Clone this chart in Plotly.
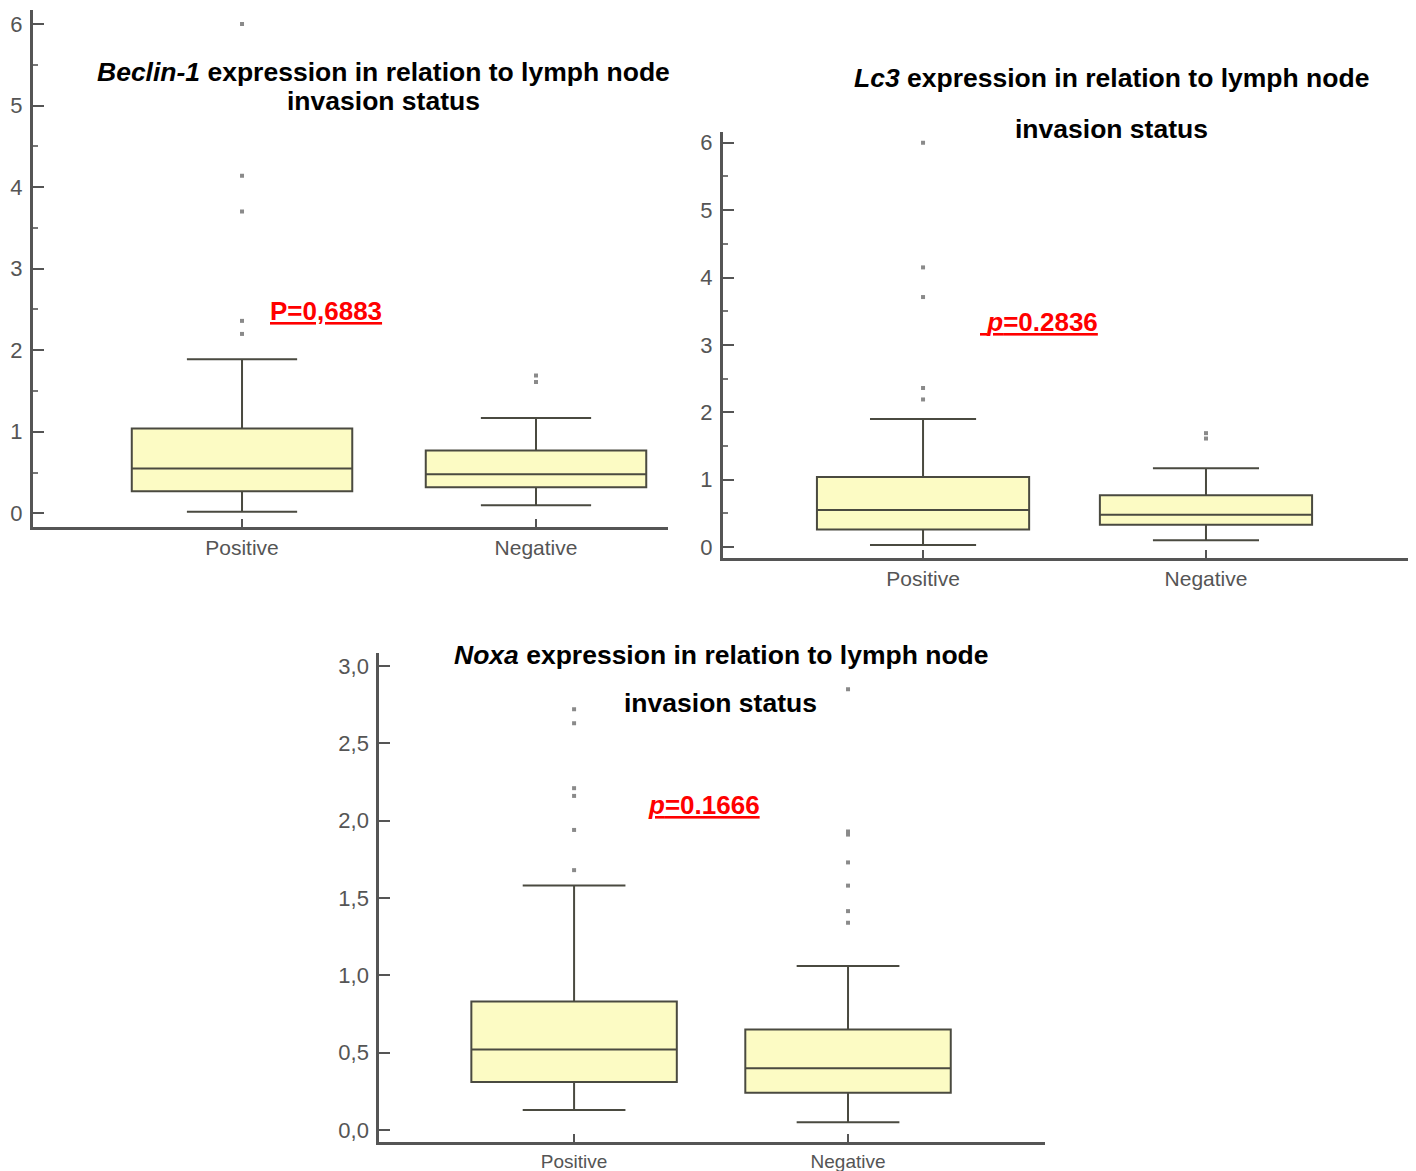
import plotly.graph_objects as go

W, H = 1416, 1171

categories = ["Positive", "Negative"]

# Beclin-1
beclin_q1 = [0.27, 0.32]
beclin_median = [0.55, 0.48]
beclin_q3 = [1.04, 0.77]
beclin_lower = [0.02, 0.10]
beclin_upper = [1.89, 1.17]
beclin_out_pos = [6.0, 4.14, 3.70, 2.36, 2.20]
beclin_out_neg = [1.69, 1.61]

# Lc3
lc3_q1 = [0.26, 0.33]
lc3_median = [0.55, 0.48]
lc3_q3 = [1.04, 0.77]
lc3_lower = [0.03, 0.10]
lc3_upper = [1.90, 1.17]
lc3_out_pos = [6.0, 4.15, 3.71, 2.36, 2.19]
lc3_out_neg = [1.69, 1.61]

# Noxa
noxa_q1 = [0.31, 0.24]
noxa_median = [0.52, 0.40]
noxa_q3 = [0.83, 0.65]
noxa_lower = [0.13, 0.05]
noxa_upper = [1.58, 1.06]
noxa_out_pos = [2.72, 2.63, 2.21, 2.16, 1.94, 1.68]
noxa_out_neg = [2.85, 1.93, 1.91, 1.73, 1.58, 1.415, 1.34]

int_ticks = [0, 1, 2, 3, 4, 5, 6]
int_ticktext = ["0", "1", "2", "3", "4", "5", "6"]
noxa_ticks = [0, 0.5, 1.0, 1.5, 2.0, 2.5, 3.0]
noxa_ticktext = ["0,0", "0,5", "1,0", "1,5", "2,0", "2,5", "3,0"]

titles = [
    ("<b><i>Beclin-1</i> expression in relation to lymph node</b>", 383, 72),
    ("<b>invasion status</b>", 383, 101),
    ("<b><i>Lc3</i> expression in relation to lymph node</b>", 1111, 78),
    ("<b>invasion status</b>", 1111, 129),
    ("<b><i>Noxa</i> expression in relation to lymph node</b>", 721, 655),
    ("<b>invasion status</b>", 720, 703),
]
pvals = [
    ("<b><u>P=0,6883</u></b>", 326, 311),
    ("<b><u>\u00a0<i>p</i>=0.2836</u></b>", 1039, 322),
    ("<b><u><i>p</i>=0.1666</u></b>", 704, 805),
]

FILL = "#fcfbc4"
LINE = "#4a4a40"
AXIS = "#555555"
FONT = "Liberation Sans, Arial"

fig = go.Figure()

panels = [
    ("x", "y", beclin_q1, beclin_median, beclin_q3, beclin_lower, beclin_upper, beclin_out_pos, beclin_out_neg),
    ("x2", "y2", lc3_q1, lc3_median, lc3_q3, lc3_lower, lc3_upper, lc3_out_pos, lc3_out_neg),
    ("x3", "y3", noxa_q1, noxa_median, noxa_q3, noxa_lower, noxa_upper, noxa_out_pos, noxa_out_neg),
]

for xa, ya, q1, med, q3, lo, up, opos, oneg in panels:
    fig.add_trace(go.Box(
        x=categories, q1=q1, median=med, q3=q3, lowerfence=lo, upperfence=up,
        fillcolor=FILL, line=dict(color=LINE, width=2), whiskerwidth=0.5,
        boxpoints=False, xaxis=xa, yaxis=ya, showlegend=False, hoverinfo="skip",
    ))
    fig.add_trace(go.Scatter(
        x=[categories[0]] * len(opos) + [categories[1]] * len(oneg),
        y=opos + oneg, mode="markers",
        marker=dict(symbol="square", size=4, color="#8a8a8a"),
        xaxis=xa, yaxis=ya, showlegend=False, hoverinfo="skip",
    ))


def px_x(p):
    return p / W


def px_y(p):
    return 1 - p / H


def xaxis(left, right, rng, anchor, size=21):
    return dict(
        domain=[px_x(left), px_x(right)], range=rng, type="category", anchor=anchor,
        showline=True, linecolor=AXIS, linewidth=3, ticks="inside", ticklen=8,
        tickwidth=2, tickcolor=AXIS, tickfont=dict(family=FONT, size=size, color="#555555"),
        showgrid=False, zeroline=False, fixedrange=True, ticklabelstandoff=0,
        automargin=False,
    )


def yaxis(bottom, top, rng, tv, tt, minor, anchor):
    d = dict(
        domain=[px_y(bottom), px_y(top)], range=rng, anchor=anchor,
        showline=True, linecolor=AXIS, linewidth=3, ticks="inside", ticklen=11,
        tickwidth=2, tickcolor=AXIS, tickfont=dict(family=FONT, size=22, color="#555555"),
        tickvals=tv, ticktext=tt,
        showgrid=False, zeroline=False, fixedrange=True, ticklabelstandoff=3,
        automargin=False,
    )
    if minor:
        d["minor"] = dict(dtick=0.5, tick0=0, ticks="inside", ticklen=5, tickwidth=1.5,
                          tickcolor="#777777", showgrid=False)
    return d


fig.update_layout(
    template="none",
    width=W, height=H, margin=dict(l=0, r=0, t=0, b=0, autoexpand=False),
    paper_bgcolor="white", plot_bgcolor="white", boxgap=0.25, boxgroupgap=0,
    xaxis=xaxis(33, 668, [-0.711, 1.449], "y"),
    yaxis=yaxis(526.7, 10, [-0.164, 6.172], int_ticks, int_ticktext, True, "x"),
    xaxis2=xaxis(723, 1408, [-0.707, 1.714], "y2"),
    yaxis2=yaxis(558, 131.7, [-0.163, 6.164], int_ticks, int_ticktext, True, "x2"),
    xaxis3=xaxis(379.3, 1045, [-0.711, 1.719], "y3", size=19),
    yaxis3=yaxis(1141.7, 653, [-0.0757, 3.084], noxa_ticks, noxa_ticktext, False, "x3"),
)

for t, x, y in titles:
    fig.add_annotation(text=t, x=px_x(x), y=px_y(y), xref="paper", yref="paper",
                       xanchor="center", yanchor="middle", showarrow=False,
                       font=dict(family=FONT, size=26.5, color="black"))
for t, x, y in pvals:
    fig.add_annotation(text=t, x=px_x(x), y=px_y(y), xref="paper", yref="paper",
                       xanchor="center", yanchor="middle", showarrow=False,
                       font=dict(family=FONT, size=26, color="#ff0000"))

fig.write_html("out.html", config={"displayModeBar": False},
               post_script="document.body.style.margin='0';")
